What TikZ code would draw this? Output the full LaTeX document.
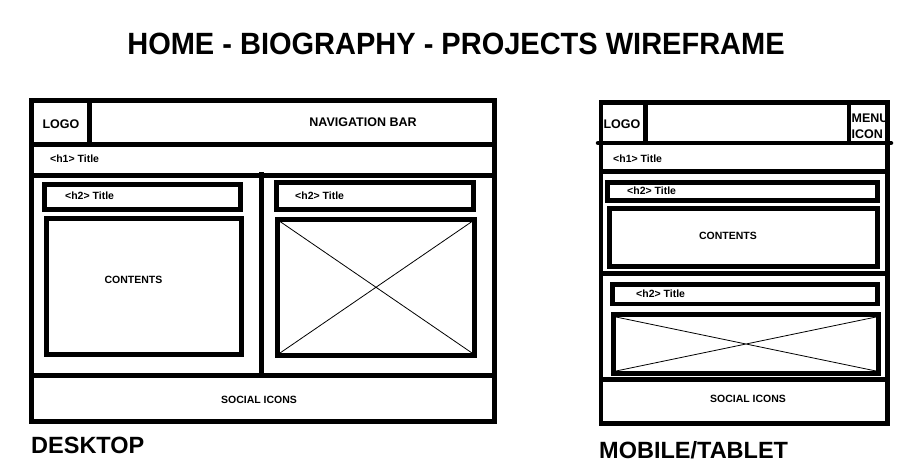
\documentclass[tikz,border=0pt]{standalone}
\usepackage{fontspec}
\setmainfont{Liberation Sans}
\begin{document}
\begin{tikzpicture}[x=1pt,y=-1pt,
  frame/.style={line width=5pt},
  mid/.style={line width=4.5pt},
  cross/.style={line width=0.8pt},
  lbl/.style={inner sep=0pt,font=\bfseries\fontsize{10.5}{12}\selectfont},
  big/.style={inner sep=0pt,font=\bfseries\fontsize{12.5}{14}\selectfont},
  head/.style={inner sep=0pt,font=\bfseries\fontsize{23.5}{26}\selectfont}]
\useasboundingbox[fill=white] (0,0) rectangle (917,467);

% heading
\node[inner sep=0pt,yscale=1.06,font=\bfseries\fontsize{29}{32}\selectfont] (heading) at (456,44) {HOME - BIOGRAPHY - PROJECTS WIREFRAME};

% ---------- desktop layout ----------
\draw[frame] (31.5,100.5) rectangle (494.5,421.5);
\draw[frame] (89.5,100.5) -- (89.5,144.5);
\draw[frame] (31.5,144.5) -- (494.5,144.5);
\draw[frame] (31.5,175) -- (494.5,175);
\draw[frame] (261.5,172) -- (261.5,375.5);
\draw[frame] (31.5,375.5) -- (494.5,375.5);
\draw[frame] (44.5,184.5) rectangle (240.5,209);
\draw[frame] (46.5,218.5) rectangle (241,354.5);
\draw[frame] (276.5,182.5) rectangle (473.5,209.5);
\draw[frame] (277.5,219) rectangle (474.5,355.5);
\draw[cross] (280,221.5) -- (472,353) (280,353) -- (472,221.5);

\node[big] (dlogo) at (61,124) {LOGO};
\node[big] (dnav) at (363,122) {NAVIGATION BAR};
\node[lbl,anchor=west] (dh1) at (50,159) {<h1> Title};
\node[lbl,anchor=west] (dh2a) at (65,196) {<h2> Title};
\node[lbl,anchor=west] (dh2b) at (295,196) {<h2> Title};
\node[lbl] (dcontents) at (133.5,280) {CONTENTS};
\node[lbl] (dsocial) at (259,400) {SOCIAL ICONS};
\node[head,anchor=west] (desktop) at (31,445) {DESKTOP};

% ---------- mobile / tablet layout ----------
\draw[mid] (601,102.5) rectangle (887.5,423.5);
\draw[mid] (645.5,102.5) -- (645.5,143);
\draw[mid] (849,102.5) -- (849,143);
\draw[mid,line cap=round] (598,143) -- (891,143);
\draw[mid] (601,171.5) -- (887.5,171.5);
\draw[mid] (607.5,182.5) rectangle (877.5,200.5);
\draw[mid] (609.5,208.5) rectangle (877.5,266.5);
\draw[mid] (601,273.5) -- (887.5,273.5);
\draw[mid] (612.5,284.5) rectangle (877.5,304);
\draw[mid] (613.5,314.5) rectangle (878.5,373.5);
\draw[cross] (616,317) -- (876,371) (616,371) -- (876,317);
\draw[mid] (601,379.5) -- (887.5,379.5);

\node[big] (mlogo) at (622,124) {LOGO};
\node[big,anchor=north west,align=left,font=\bfseries\fontsize{12.5}{16}\selectfont] (mmenu) at (851.5,113.5) {MENU\\ICON};
\node[lbl,anchor=west] (mh1) at (613,159) {<h1> Title};
\node[lbl,anchor=west] (mh2a) at (627,191) {<h2> Title};
\node[lbl] (mcontents) at (728,236) {CONTENTS};
\node[lbl,anchor=west] (mh2b) at (636,294) {<h2> Title};
\node[lbl] (msocial) at (748,399) {SOCIAL ICONS};
\node[head,anchor=west] (mobile) at (599,450) {MOBILE/TABLET};
\end{tikzpicture}
\end{document}
